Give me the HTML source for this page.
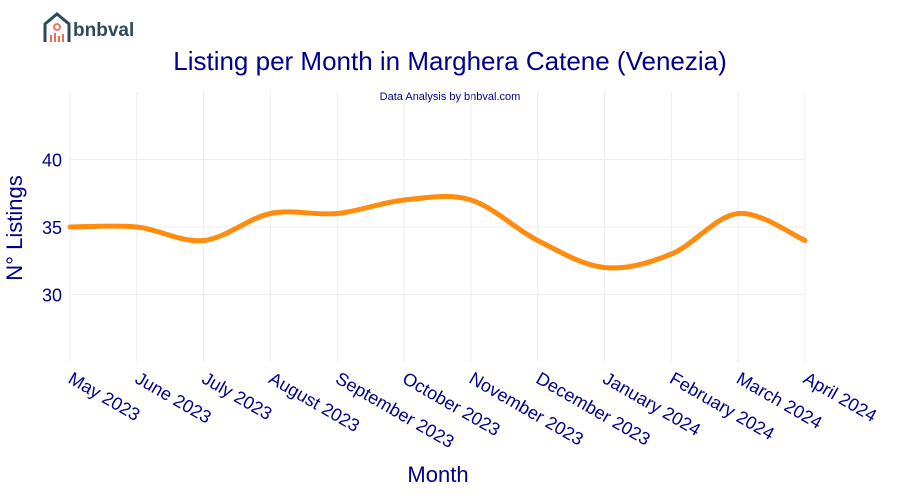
<!DOCTYPE html>
<html><head><meta charset="utf-8"><style>
body{margin:0;background:#fff;}
svg{display:block;font-family:"Liberation Sans",Arial,sans-serif;}
</style></head><body>
<svg id="c" width="900" height="500">
<g>
<path d="M45,42 V24 L57,14 L69,24 V42" fill="none" stroke="#2d4a5a" stroke-width="3"/>
<circle cx="57" cy="27" r="3" fill="none" stroke="#f26b4f" stroke-width="1.8"/>
<rect x="50" y="35" width="2" height="7" fill="#f26b4f"/><rect x="54" y="33" width="2" height="9" fill="#f26b4f"/><rect x="58" y="36" width="2" height="6" fill="#f26b4f"/><rect x="62" y="34" width="2" height="8" fill="#f26b4f"/>
<text x="73" y="36" font-size="19" font-weight="bold" fill="#2d4a5a">bnbval</text>
</g>
<text x="450" y="70" text-anchor="middle" font-size="26" fill="#00008b">Listing per Month in Marghera Catene (Venezia)</text>
<text x="450" y="100" text-anchor="middle" font-size="11" fill="#00008b">Data Analysis by bnbval.com</text>
<g id="grid"></g><g id="ylab"></g><g id="xlab"></g>
<path id="line" fill="none" stroke="#ff8c0f" stroke-width="5" stroke-linecap="round"/>
<text x="0" y="0" transform="translate(22,228) rotate(-90)" text-anchor="middle" font-size="22" fill="#00008b">N° Listings</text>
<text x="438" y="482" text-anchor="middle" font-size="22" fill="#00008b">Month</text>
</svg>
<script>
const categories=["May 2023","June 2023","July 2023","August 2023","September 2023","October 2023","November 2023","December 2023","January 2024","February 2024","March 2024","April 2024"];
const listings=[35,35,34,36,36,37,37,34,32,33,36,34];
const yTicks=[30,35,40];
const ns="http://www.w3.org/2000/svg";
const x0=70,x1=805,yTop=92,yBot=362,yMin=25,yMax=45;
const X=i=>x0+(x1-x0)*i/(categories.length-1);
const Y=v=>yBot-(v-yMin)/(yMax-yMin)*(yBot-yTop);
const grid=document.getElementById('grid'),ylab=document.getElementById('ylab'),xlab=document.getElementById('xlab');
function mk(t,a,p){const e=document.createElementNS(ns,t);for(const k in a)e.setAttribute(k,a[k]);p.appendChild(e);return e;}
yTicks.forEach(v=>{
 const l=mk('line',{x1:x0,x2:x1,y1:Y(v),y2:Y(v),stroke:'#ececec','stroke-width':1},grid);
 
 
 const t=mk('text',{x:x0-8,y:Y(v)+7,'text-anchor':'end','font-size':18,fill:'#00008b'},ylab);
 t.textContent=v;
 
 
});
categories.forEach((c,i)=>{
 const l=mk('line',{x1:X(i),x2:X(i),y1:yTop,y2:yBot,stroke:'#ececec','stroke-width':1},grid);
 
 
 const t=mk('text',{'font-size':18,fill:'#00008b',transform:`translate(${X(i)-3},${yBot+20}) rotate(30)`},xlab);
 t.textContent=c;
 
 
});
const pts=listings.map((v,i)=>[X(i),Y(v)]);
let d=`M${pts[0][0]},${pts[0][1]}`;
for(let i=0;i<pts.length-1;i++){
 const p0=pts[Math.max(i-1,0)],p1=pts[i],p2=pts[i+1],p3=pts[Math.min(i+2,pts.length-1)];
 const k=1/6;
 d+=` C${p1[0]+(p2[0]-p0[0])*k},${p1[1]+(p2[1]-p0[1])*k} ${p2[0]-(p3[0]-p1[0])*k},${p2[1]-(p3[1]-p1[1])*k} ${p2[0]},${p2[1]}`;
}
document.getElementById('line').setAttribute('d',d);
</script>
</body></html>
